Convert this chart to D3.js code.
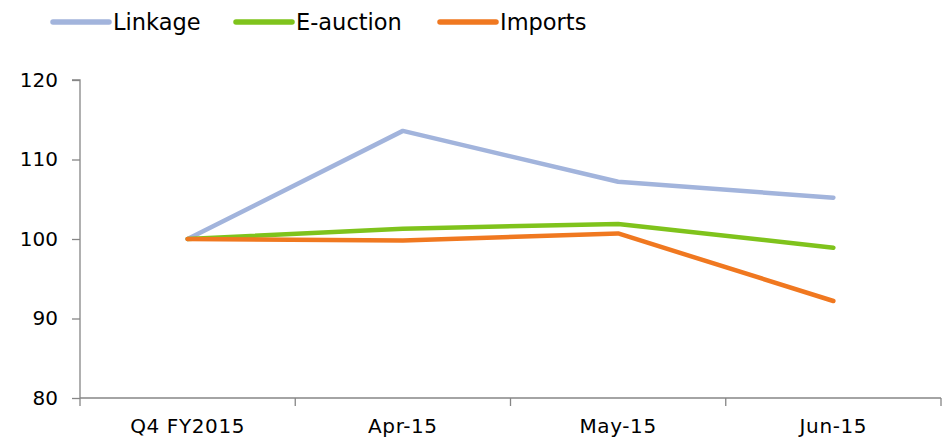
<!DOCTYPE html>
<html>
<head>
<meta charset="utf-8">
<script src="https://cdn.jsdelivr.net/npm/d3@7"></script>
<style>
  html, body { margin: 0; padding: 0; background: #fff; }
  svg { display: block; font-family: "DejaVu Sans", Verdana, sans-serif; }
</style>
</head>
<body>
<svg id="chart" width="945" height="439"></svg>
<script>
// Index values (Q4 FY2015 = 100)
const categories = ["Q4 FY2015", "Apr-15", "May-15", "Jun-15"];
const linkage  = [100, 113.6, 107.2, 105.2];
const eauction = [100, 101.3, 101.9, 98.9];
const imports  = [100, 99.8, 100.7, 92.2];
const yTicks = [80, 90, 100, 110, 120];

const seriesList = [
  { name: "Linkage",   values: linkage,  color: "#a2b4dc" },
  { name: "E-auction", values: eauction, color: "#7fc31c" },
  { name: "Imports",   values: imports,  color: "#f07820" }
];

const svg = d3.select("#chart");
const plotLeft = 80, plotRight = 941;

const x = d3.scaleBand().domain(categories).range([plotLeft, plotRight]).paddingInner(0).paddingOuter(0);
const y = d3.scaleLinear().domain([80, 120]).range([398, 80]);

const axisColor = "#868686";

// Y axis
const yAxis = svg.append("g")
  .attr("transform", `translate(${plotLeft},0)`)
  .call(d3.axisLeft(y).tickValues(yTicks).tickSize(8).tickPadding(14).tickFormat(d3.format("d")));
yAxis.select(".domain").attr("stroke", axisColor).attr("stroke-width", 1.3)
  .attr("d", `M-8,${y(120)}H0V${y(80)}`);
yAxis.selectAll(".tick line").attr("stroke", axisColor).attr("stroke-width", 1.3);
yAxis.selectAll(".tick text").attr("font-size", 20).attr("fill", "#000")
  .attr("font-family", "DejaVu Sans, Verdana, sans-serif");

// X axis with tick marks on band boundaries
const xAxisG = svg.append("g").attr("transform", `translate(0,${y(80)})`);
xAxisG.append("line")
  .attr("x1", plotLeft).attr("x2", plotRight)
  .attr("stroke", axisColor).attr("stroke-width", 1.3);
const boundaries = categories.map(c => x(c)).concat([x(categories[categories.length - 1]) + x.bandwidth()]);
xAxisG.selectAll("line.tk").data(boundaries).join("line")
  .attr("class", "tk")
  .attr("x1", d => d).attr("x2", d => d)
  .attr("y1", 0).attr("y2", 8)
  .attr("stroke", axisColor).attr("stroke-width", 1.3);
xAxisG.selectAll("text").data(categories).join("text")
  .attr("x", d => x(d) + x.bandwidth() / 2)
  .attr("y", 35)
  .attr("text-anchor", "middle")
  .attr("font-size", 20)
  .attr("letter-spacing", 0.6)
  .attr("fill", "#000")
  .text(d => d);

// Lines
const line = d3.line()
  .x((d, i) => x(categories[i]) + x.bandwidth() / 2)
  .y(d => y(d));

svg.append("g").selectAll("path").data(seriesList).join("path")
  .attr("d", s => line(s.values))
  .attr("fill", "none")
  .attr("stroke", s => s.color)
  .attr("stroke-width", 4.5)
  .attr("stroke-linejoin", "round")
  .attr("stroke-linecap", "round");

// Legend
const legendX = [53, 236, 440];
const legend = svg.append("g").selectAll("g").data(seriesList).join("g")
  .attr("transform", (d, i) => `translate(${legendX[i]},22)`);
legend.append("line")
  .attr("x1", 0).attr("x2", 56)
  .attr("stroke", d => d.color)
  .attr("stroke-width", 5.5)
  .attr("stroke-linecap", "round");
legend.append("text")
  .attr("x", 60).attr("y", 8)
  .attr("font-size", 22.5)
  .attr("fill", "#000")
  .text(d => d.name);
</script>
</body>
</html>
